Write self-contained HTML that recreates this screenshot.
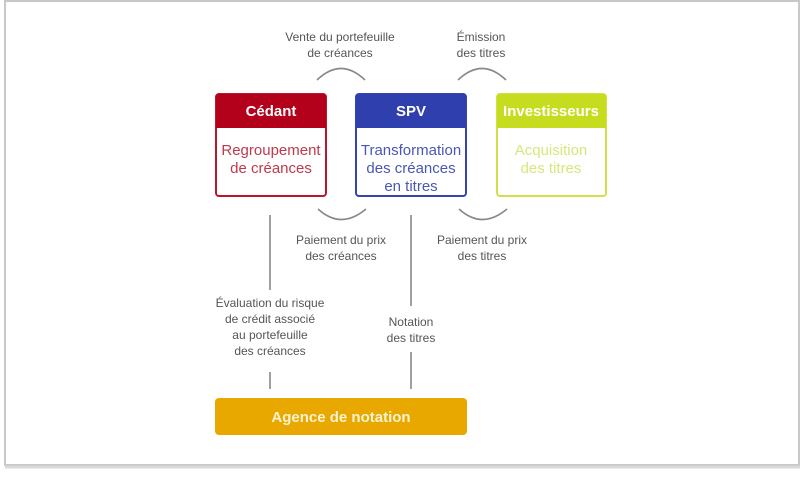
<!DOCTYPE html>
<html><head><meta charset="utf-8"><style>
body{margin:0;background:#fff}
svg text{font-family:"Liberation Sans Narrow","Liberation Sans",sans-serif}
</style></head><body>
<svg width="800" height="472" viewBox="0 0 800 472" xmlns="http://www.w3.org/2000/svg">
<rect x="0" y="0" width="800" height="472" fill="#fff"/>
<rect x="5" y="1" width="794" height="464" fill="#fff" stroke="#c8c8c8" stroke-width="2"/>
<line x1="5" y1="467" x2="800" y2="467" stroke="#d8d8d8" stroke-width="3"/>

<!-- Cédant -->
<rect x="216" y="94" width="110" height="102" rx="3" fill="#fff" stroke="#b8182a" stroke-width="2"/>
<path d="M216 128 V97 a3 3 0 0 1 3 -3 H323 a3 3 0 0 1 3 3 V128 Z" fill="#b3001b"/>
<text x="271" y="116" font-size="15" font-weight="bold" fill="#fff" text-anchor="middle">Cédant</text>
<text x="271" y="155" font-size="15" fill="#c0394b" text-anchor="middle">Regroupement</text>
<text x="271" y="173" font-size="15" fill="#c0394b" text-anchor="middle">de créances</text>

<!-- SPV -->
<rect x="356" y="94" width="110" height="102" rx="3" fill="#fff" stroke="#3545b0" stroke-width="2"/>
<path d="M356 128 V97 a3 3 0 0 1 3 -3 H463 a3 3 0 0 1 3 3 V128 Z" fill="#2f3fae"/>
<text x="411" y="116" font-size="15" font-weight="bold" fill="#fff" text-anchor="middle">SPV</text>
<text x="411" y="155" font-size="15" fill="#4a57b4" text-anchor="middle">Transformation</text>
<text x="411" y="173" font-size="15" fill="#4a57b4" text-anchor="middle">des créances</text>
<text x="411" y="191" font-size="15" fill="#4a57b4" text-anchor="middle">en titres</text>

<!-- Investisseurs -->
<rect x="497" y="94" width="109" height="102" rx="3" fill="#fff" stroke="#cfe04a" stroke-width="2"/>
<path d="M497 128 V97 a3 3 0 0 1 3 -3 H603 a3 3 0 0 1 3 3 V128 Z" fill="#c6dc1e"/>
<text x="551" y="116" font-size="15" font-weight="bold" fill="#fff" text-anchor="middle">Investisseurs</text>
<text x="551" y="155" font-size="15" fill="#d9e67a" text-anchor="middle">Acquisition</text>
<text x="551" y="173" font-size="15" fill="#d9e67a" text-anchor="middle">des titres</text>

<!-- arcs -->
<g fill="none" stroke="#888" stroke-width="1.6">
<path d="M317 80 Q341 57 365 80"/>
<path d="M458 80 Q482 57 506 80"/>
<path d="M318 209 Q341 230 366 209"/>
<path d="M459 209 Q482 230 507 209"/>
<line x1="270" y1="215" x2="270" y2="290"/>
<line x1="270" y1="372" x2="270" y2="389"/>
<line x1="411" y1="215" x2="411" y2="306"/>
<line x1="411" y1="352" x2="411" y2="389"/>
</g>
<g fill="#555" font-size="12" text-anchor="middle">
<text x="340" y="41">Vente du portefeuille</text>
<text x="340" y="57">de créances</text>
<text x="481" y="41">Émission</text>
<text x="481" y="57">des titres</text>
<text x="341" y="244">Paiement du prix</text>
<text x="341" y="260">des créances</text>
<text x="482" y="244">Paiement du prix</text>
<text x="482" y="260">des titres</text>
<text x="270" y="307">Évaluation du risque</text>
<text x="270" y="323">de crédit associé</text>
<text x="270" y="339">au portefeuille</text>
<text x="270" y="355">des créances</text>
<text x="411" y="326">Notation</text>
<text x="411" y="342">des titres</text>
</g>

<!-- Agence -->
<rect x="215" y="398" width="252" height="37" rx="4" fill="#e9a800"/>
<text x="341" y="422" font-size="15" font-weight="bold" fill="#fff3d0" text-anchor="middle">Agence de notation</text>
</svg>
</body></html>
